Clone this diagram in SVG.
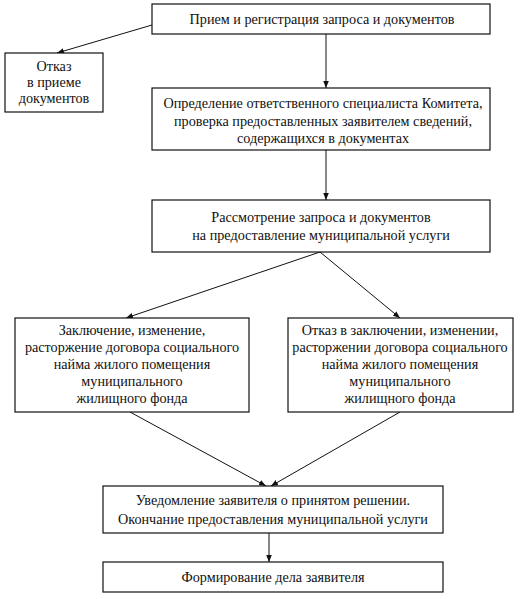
<svg xmlns="http://www.w3.org/2000/svg" width="530" height="599" viewBox="0 0 530 599">
<style>
.box{fill:#fff;stroke:#111;stroke-width:1.2}
.t{font-family:"Liberation Serif","Times New Roman",serif;font-size:14.2px;fill:#111;text-anchor:middle}
.c{stroke:#111;stroke-width:1;fill:none;marker-end:url(#ah)}
</style>
<defs>
<marker id="ah" viewBox="0 0 10 10" refX="10" refY="5" markerWidth="7" markerHeight="7" markerUnits="userSpaceOnUse" orient="auto">
<path d="M0,1 L10,5 L0,9 Z" fill="#111"/>
</marker>
</defs>
<rect width="530" height="599" fill="#fff"/>
<g id="connectors">
<line class="c" x1="152" y1="25" x2="57" y2="53"/>
<line class="c" x1="326" y1="34" x2="326" y2="88"/>
<line class="c" x1="326" y1="150" x2="326" y2="200"/>
<line class="c" x1="320" y1="252" x2="126" y2="318"/>
<line class="c" x1="320" y1="252" x2="400" y2="318"/>
<line class="c" x1="130" y1="412" x2="266" y2="486"/>
<line class="c" x1="400" y1="412" x2="271" y2="486"/>
<line class="c" x1="269" y1="533" x2="269" y2="562"/>
</g>
<g id="n1">
<rect class="box" x="152" y="4" width="338" height="30"/>
<text class="t" x="322" y="24">Прием и регистрация запроса и документов</text>
</g>
<g id="n2">
<rect class="box" x="5" y="53" width="98" height="59"/>
<text class="t" x="54" y="71">Отказ</text>
<text class="t" x="54" y="87">в приеме</text>
<text class="t" x="54" y="103">документов</text>
</g>
<g id="n3">
<rect class="box" x="152" y="88" width="338" height="62"/>
<text class="t" x="323" y="108">Определение ответственного специалиста Комитета,</text>
<text class="t" x="323" y="126">проверка предоставленных заявителем сведений,</text>
<text class="t" x="323" y="143">содержащихся в документах</text>
</g>
<g id="n4">
<rect class="box" x="152" y="200" width="338" height="52"/>
<text class="t" x="321" y="222">Рассмотрение запроса и документов</text>
<text class="t" x="321" y="240">на предоставление муниципальной услуги</text>
</g>
<g id="n5">
<rect class="box" x="15" y="318" width="234" height="94"/>
<text class="t" x="132" y="335">Заключение, изменение,</text>
<text class="t" x="132" y="352">расторжение договора социального</text>
<text class="t" x="132" y="369">найма жилого помещения</text>
<text class="t" x="132" y="386">муниципального</text>
<text class="t" x="132" y="403">жилищного фонда</text>
</g>
<g id="n6">
<rect class="box" x="288" y="318" width="225" height="94"/>
<text class="t" x="400" y="335">Отказ в заключении, изменении,</text>
<text class="t" x="400" y="352">расторжении договора социального</text>
<text class="t" x="400" y="369">найма жилого помещения</text>
<text class="t" x="400" y="386">муниципального</text>
<text class="t" x="400" y="403">жилищного фонда</text>
</g>
<g id="n7">
<rect class="box" x="103" y="486" width="340" height="47"/>
<text class="t" x="273" y="505">Уведомление заявителя о принятом решении.</text>
<text class="t" x="273" y="524">Окончание предоставления муниципальной услуги</text>
</g>
<g id="n8">
<rect class="box" x="103" y="562" width="340" height="30"/>
<text class="t" x="273" y="582">Формирование дела заявителя</text>
</g>
</svg>
